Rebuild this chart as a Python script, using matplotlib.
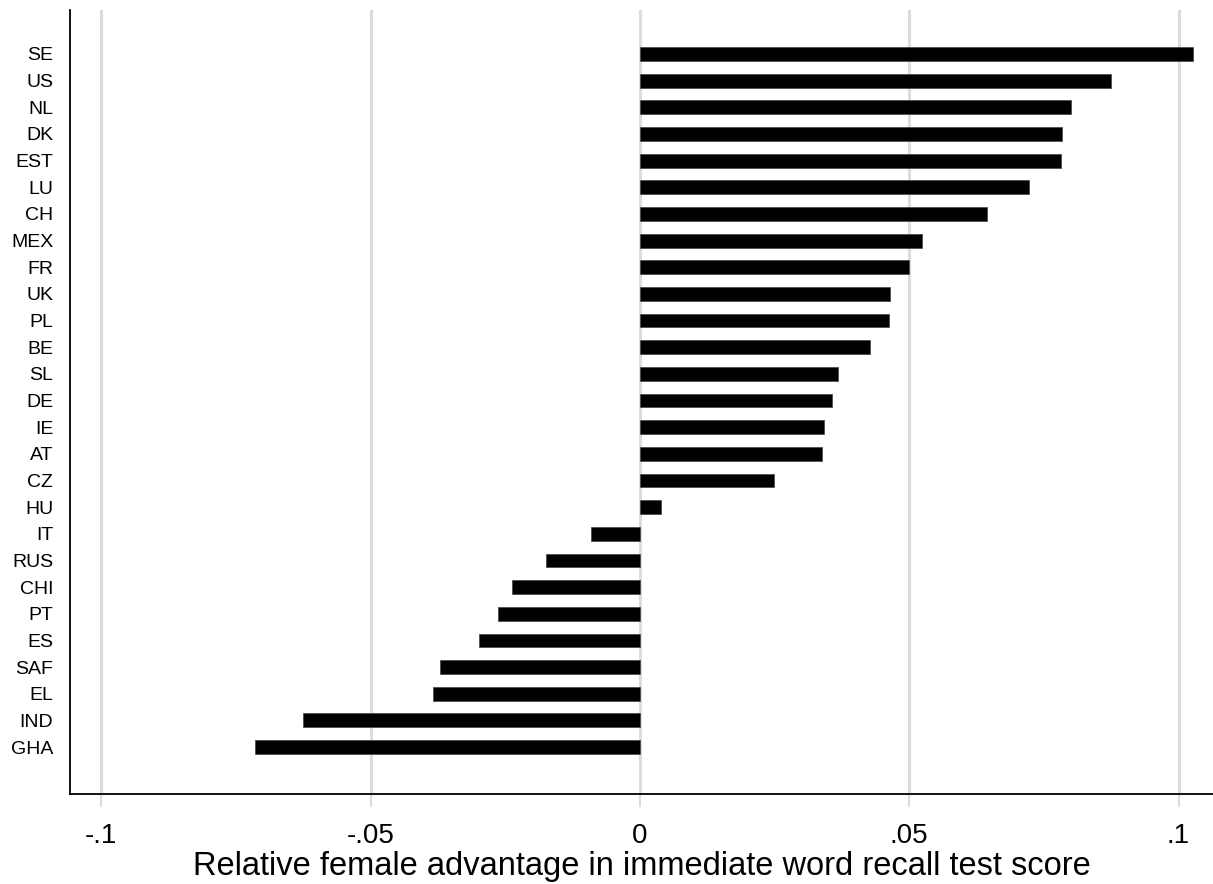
import matplotlib
matplotlib.use("Agg")
import matplotlib.pyplot as plt
import numpy as np

# countries, top to bottom
countries = ["SE", "US", "NL", "DK", "EST", "LU", "CH", "MEX", "FR", "UK",
             "PL", "BE", "SL", "DE", "IE", "AT", "CZ", "HU", "IT", "RUS",
             "CHI", "PT", "ES", "SAF", "EL", "IND", "GHA"]
advantage = [0.1027, 0.0874, 0.0800, 0.0784, 0.0781, 0.0722, 0.0644, 0.0524,
             0.0499, 0.0465, 0.0462, 0.0428, 0.0368, 0.0357, 0.0341, 0.0338,
             0.0249, 0.0040, -0.0091, -0.0174, -0.0237, -0.0263, -0.0298,
             -0.0372, -0.0384, -0.0626, -0.0715]
xticks = [-0.1, -0.05, 0, 0.05, 0.1]
xticklabels = ["-.1", "-.05", "0", ".05", ".1"]

plt.rcParams["font.family"] = ["Liberation Sans", "DejaVu Sans"]

fig = plt.figure(figsize=(12.13, 8.84), dpi=100)
ax = fig.add_axes([70 / 1213, 90 / 884, 1 - 70 / 1213, 784 / 884])

grid_col = "#dcdcdc"
ypos = np.arange(len(countries))
ax.barh(ypos, advantage, height=0.52, color="black", edgecolor="#444444",
        linewidth=0.5, zorder=3)

ax.set_xlim(-0.1058, 0.1064)
ax.set_ylim(len(countries) - 1 + 1.76, -1.65)

ax.set_xticks(xticks)
ax.set_xticklabels(xticklabels, fontsize=20)
ax.set_yticks(ypos)
ax.set_yticklabels(countries, fontsize=14)

ax.tick_params(axis="x", length=9, width=1.5, color=grid_col, pad=12)
ax.tick_params(axis="y", length=0, pad=12)
ax.grid(axis="x", color=grid_col, linewidth=2.2, zorder=0)
ax.set_axisbelow(True)

for side in ["top", "right"]:
    ax.spines[side].set_visible(False)
for side in ["left", "bottom"]:
    ax.spines[side].set_linewidth(1.3)
    ax.spines[side].set_zorder(4)

ax.set_xlabel("Relative female advantage in immediate word recall test score",
              fontsize=23.5, labelpad=1)

fig.savefig("out.png", dpi=100)
